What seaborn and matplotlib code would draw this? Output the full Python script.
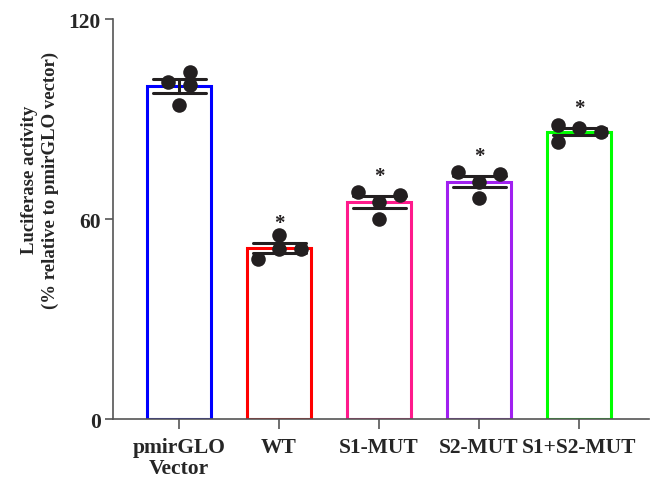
import numpy as np
import pandas as pd
import matplotlib
matplotlib.use("Agg")
import matplotlib.pyplot as plt
import seaborn as sns

# Data
groups = ["pmirGLO\nVector", "WT", "S1-MUT", "S2-MUT", "S1+S2-MUT"]
rep_vector = [101.1, 104.1, 100.2, 94.2]
rep_wt = [55.2, 51.0, 51.0, 48.0]
rep_s1 = [68.1, 65.1, 67.2, 60.0]
rep_s2 = [74.1, 71.1, 73.5, 66.3]
rep_s1s2 = [88.2, 87.3, 86.1, 83.1]
stars = ["", "*", "*", "*", "*"]
bar_colors = ["#0000ff", "#ff0000", "#ff1a8c", "#a020f0", "#00ff00"]
yticks = [0, 60, 120]

reps = [rep_vector, rep_wt, rep_s1, rep_s2, rep_s1s2]
df = pd.DataFrame(
    [(g, v) for g, vals in zip(groups, reps) for v in vals],
    columns=["group", "value"],
)

# horizontal spread of the points inside each bar (layout only)
point_offsets = [
    [-0.11, 0.11, 0.11, 0.0],
    [0.0, 0.0, 0.22, -0.21],
    [-0.21, 0.0, 0.21, 0.0],
    [-0.21, 0.0, 0.21, 0.0],
    [-0.21, 0.0, 0.22, -0.21],
]

sns.set_theme(style="ticks")
plt.rcParams["font.family"] = ["Liberation Serif", "DejaVu Serif"]
plt.rcParams["font.weight"] = "bold"

fig = plt.figure(figsize=(6.51, 4.81), dpi=100)
ax = fig.add_axes([0.1736, 0.1268, 0.8234, 0.8316])

dark = "#231f20"
sns.barplot(
    data=df, x="group", y="value", hue="group", palette=bar_colors,
    order=groups, errorbar="se", capsize=0.53, width=0.64,
    err_kws={"color": dark, "linewidth": 2.2}, legend=False, ax=ax,
)
for patch, c in zip(ax.patches, bar_colors):
    patch.set_facecolor("white")
    patch.set_edgecolor(c)
    patch.set_linewidth(2.2)

# replicate points
for i, (vals, offs) in enumerate(zip(reps, point_offsets)):
    xs = [i + o for o in offs]
    ax.scatter(xs, vals, s=110, color=dark, zorder=4, linewidths=0)

# significance stars
for i, (vals, st) in enumerate(zip(reps, stars)):
    if not st:
        continue
    v = np.array(vals)
    top = v.mean() + v.std(ddof=1) / np.sqrt(len(v))
    ax.text(i, top + 3.0, st, ha="center", va="bottom", fontsize=15,
            fontweight="bold", color=dark)

ax.set_ylim(0, 120)
ax.set_xlim(-0.66, 4.70)
ax.set_yticks(yticks)
ax.set_yticklabels([str(t) for t in yticks], fontsize=15.5, fontweight="bold")
ax.set_xticks(range(len(groups)))
ax.set_xticklabels(groups, fontsize=15.5, fontweight="bold", linespacing=1.05)
ax.set_xlabel("")
ax.set_ylabel("Luciferase activity\n(% relative to pmirGLO vector)",
              fontsize=13.5, fontweight="bold", linespacing=1.3)
ax.yaxis.set_label_coords(-0.1, 0.6)

for side in ["top", "right"]:
    ax.spines[side].set_visible(False)
for side in ["left", "bottom"]:
    ax.spines[side].set_color("#555555")
    ax.spines[side].set_linewidth(1.2)
ax.tick_params(axis="y", direction="out", length=6, width=1.2,
               color="#555555", pad=3)
ax.tick_params(axis="x", direction="out", length=7, width=1.2,
               color="#555555", pad=6)

fig.savefig("out.png", dpi=100)
